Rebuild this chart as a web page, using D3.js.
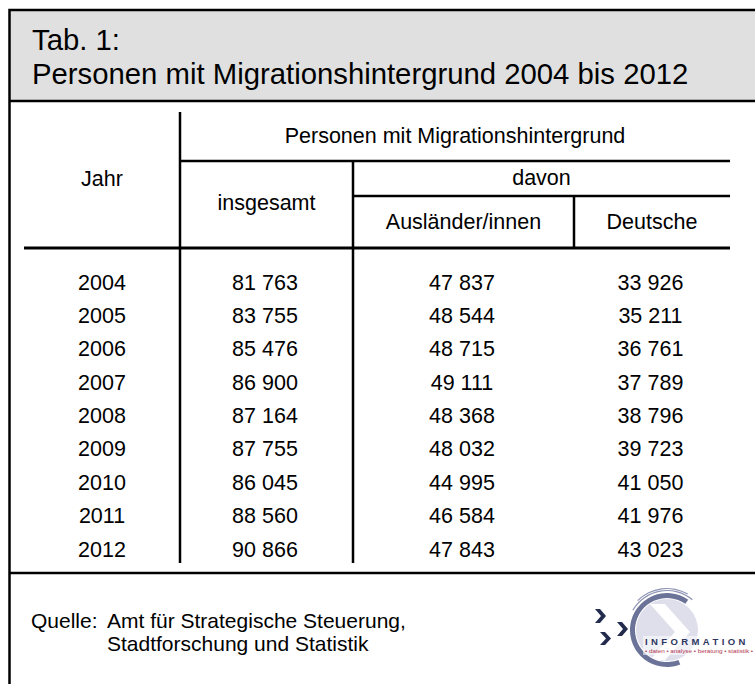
<!DOCTYPE html>
<html>
<head>
<meta charset="utf-8">
<script src="https://cdn.jsdelivr.net/npm/d3@7"></script>
<style>
  html, body { margin: 0; padding: 0; background: #fff; }
  svg { display: block; }
  text { font-family: "Liberation Sans", Arial, Helvetica, sans-serif; fill: #000; }
</style>
</head>
<body>
<svg id="chart" width="755" height="684"></svg>
<script>
// ---- data ----
const titleLines = ["Tab. 1:", "Personen mit Migrationshintergrund 2004 bis 2012"];
const years = ["2004", "2005", "2006", "2007", "2008", "2009", "2010", "2011", "2012"];
const insgesamt = [81763, 83755, 85476, 86900, 87164, 87755, 86045, 88560, 90866];
const auslaender = [47837, 48544, 48715, 49111, 48368, 48032, 44995, 46584, 47843];
const deutsche = [33926, 35211, 36761, 37789, 38796, 39723, 41050, 41976, 43023];
const columnKeys = ["jahr", "insgesamt", "auslaender", "deutsche"];
const headerTop = "Personen mit Migrationshintergrund";
const headerJahr = "Jahr";
const headerInsg = "insgesamt";
const headerDavon = "davon";
const headerAusl = "Ausländer/innen";
const headerDeut = "Deutsche";
const sourceLines = ["Quelle:", "Amt für Strategische Steuerung,", "Stadtforschung und Statistik"];

// ---- setup ----
const svg = d3.select("#chart");
const locale = d3.formatLocale({ decimal: ",", thousands: " ", grouping: [3], currency: ["", ""] });
const fmt = locale.format(",d");

// column boundaries and scales
const colEdges = [24, 180, 353, 574, 730];
const xCenter = d3.scaleOrdinal().domain(columnKeys)
  .range(columnKeys.map((k, i) => (colEdges[i] + colEdges[i + 1]) / 2));
const yRow = d3.scalePoint().domain(years).range([289.5, 556.5]);

// ---- frame ----
svg.append("rect").attr("x", 10).attr("y", 11).attr("width", 745).attr("height", 89).attr("fill", "#e0e0e0");
svg.append("path").attr("d", "M9.5,684 V10 H755").attr("fill", "none").attr("stroke", "#000").attr("stroke-width", 2.5);
svg.append("line").attr("x1", 9).attr("x2", 755).attr("y1", 101).attr("y2", 101).attr("stroke", "#000").attr("stroke-width", 2.5);
svg.append("line").attr("x1", 9).attr("x2", 755).attr("y1", 573).attr("y2", 573).attr("stroke", "#000").attr("stroke-width", 2.5);

// ---- title ----
svg.selectAll("text.title").data(titleLines).join("text")
  .attr("class", "title")
  .attr("x", 32)
  .attr("y", (d, i) => 50 + i * 33.5)
  .style("font-size", "29.3px")
  .text(d => d);

// ---- table lines ----
const lines = [
  { x1: 180, y1: 112, x2: 180, y2: 563, w: 2.5 },
  { x1: 353, y1: 160, x2: 353, y2: 563, w: 2.5 },
  { x1: 574, y1: 195, x2: 574, y2: 249, w: 2.5 },
  { x1: 180, y1: 161, x2: 730, y2: 161, w: 2.5 },
  { x1: 353, y1: 196, x2: 730, y2: 196, w: 2.5 },
  { x1: 24, y1: 248, x2: 730, y2: 248, w: 3 }
];
svg.selectAll("line.grid").data(lines).join("line")
  .attr("class", "grid")
  .attr("x1", d => d.x1).attr("y1", d => d.y1)
  .attr("x2", d => d.x2).attr("y2", d => d.y2)
  .attr("stroke", "#000").attr("stroke-width", d => d.w);

// ---- headers ----
const hdrs = [
  { t: headerTop, x: (colEdges[1] + colEdges[4]) / 2, y: 143 },
  { t: headerJahr, x: xCenter("jahr"), y: 186 },
  { t: headerDavon, x: (colEdges[2] + colEdges[4]) / 2, y: 185 },
  { t: headerInsg, x: xCenter("insgesamt"), y: 210 },
  { t: headerAusl, x: xCenter("auslaender"), y: 229 },
  { t: headerDeut, x: xCenter("deutsche"), y: 229 }
];
svg.selectAll("text.hdr").data(hdrs).join("text")
  .attr("class", "hdr")
  .attr("x", d => d.x).attr("y", d => d.y)
  .attr("text-anchor", "middle")
  .style("font-size", "21.5px")
  .text(d => d.t);

// ---- body rows ----
const rows = years.map((y, i) => ({ jahr: y, insgesamt: insgesamt[i], auslaender: auslaender[i], deutsche: deutsche[i] }));
const cellData = [];
rows.forEach(r => {
  columnKeys.forEach(k => {
    cellData.push({ row: r.jahr, key: k, text: k === "jahr" ? r.jahr : fmt(r[k]) });
  });
});
svg.selectAll("text.cell").data(cellData).join("text")
  .attr("class", "cell")
  .attr("x", d => xCenter(d.key) - (d.key === "jahr" ? 0 : 1.5))
  .attr("y", d => yRow(d.row))
  .attr("text-anchor", "middle")
  .style("font-size", "21.5px")
  .text(d => d.text);

// ---- source ----
svg.append("text").attr("x", 31).attr("y", 628).style("font-size", "21px").text(sourceLines[0]);
svg.append("text").attr("x", 107).attr("y", 628).style("font-size", "21px").text(sourceLines[1]);
svg.append("text").attr("x", 107).attr("y", 651).style("font-size", "21px").text(sourceLines[2]);

// ---- logo ----
const logo = svg.append("g");
const cx = 667, cy = 630;
logo.append("circle").attr("cx", cx).attr("cy", cy).attr("r", 31).attr("fill", "#dedfeb");
logo.append("clipPath").attr("id", "discClip").append("circle").attr("cx", cx).attr("cy", cy).attr("r", 31);
logo.append("polygon")
  .attr("clip-path", "url(#discClip)")
  .attr("points", [[650, 604], [665, 604], [690, 632], [665, 660], [650, 660], [675, 632]].map(p => p.join(",")).join(" "))
  .attr("fill", "#ffffff");
const arcGen = d3.arc();
logo.append("path")
  .attr("transform", `translate(${cx},${cy})`)
  .attr("d", arcGen({ innerRadius: 32, outerRadius: 37, startAngle: 159 * Math.PI / 180, endAngle: 395 * Math.PI / 180 }))
  .attr("fill", "#6b7399");
[39.5, 41.5].forEach((r, i) => {
  logo.append("path")
    .attr("transform", `translate(${cx},${cy})`)
    .attr("d", arcGen({ innerRadius: r - 0.6, outerRadius: r + 0.6, startAngle: (300 + i * 15) * Math.PI / 180, endAngle: (400 - i * 10) * Math.PI / 180 }))
    .attr("fill", "#8f95b5");
});
const chevrons = [[595, 609, 11, 14], [617, 622, 11, 14], [600, 632, 11, 13]];
logo.selectAll("polygon.chev").data(chevrons).join("polygon")
  .attr("class", "chev")
  .attr("points", ([x0, y0, w, h]) => {
    const t = 5;
    return [[x0, y0], [x0 + t, y0], [x0 + w, y0 + h / 2], [x0 + t, y0 + h], [x0, y0 + h], [x0 + w - t, y0 + h / 2]].map(p => p.join(",")).join(" ");
  })
  .attr("fill", "#232c4d");
logo.append("rect").attr("x", 643).attr("y", 636).attr("width", 112).attr("height", 19).attr("fill", "#ffffff").attr("opacity", 0.55);
logo.append("text").attr("x", 645).attr("y", 645)
  .style("font-size", "9.5px").style("font-weight", "bold").style("letter-spacing", "3.4px")
  .style("fill", "#2d3660").text("INFORMATION");
logo.append("text").attr("x", 645).attr("y", 653)
  .attr("textLength", 108).attr("lengthAdjust", "spacingAndGlyphs")
  .style("font-size", "4.8px").style("fill", "#b3374f")
  .text("• daten • analyse • beratung • statistik •");
</script>
</body>
</html>
